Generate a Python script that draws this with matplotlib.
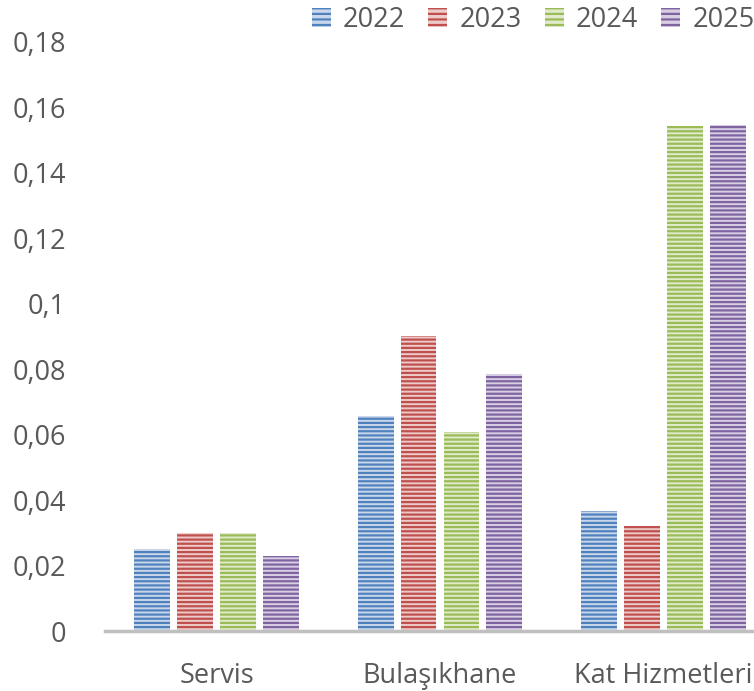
import numpy as np
import matplotlib.pyplot as plt
from matplotlib.patches import Patch

plt.rcParams['font.family'] = ['Open Sans', 'DejaVu Sans']
plt.rcParams['hatch.linewidth'] = 1.6

categories = ['Servis', 'Bulaşıkhane', 'Kat Hizmetleri']
years = ['2022', '2023', '2024', '2025']
values = {
    '2022': [0.025, 0.0657, 0.0367],
    '2023': [0.0298, 0.0902, 0.0321],
    '2024': [0.0298, 0.0608, 0.1543],
    '2025': [0.023, 0.0785, 0.1547],
}
yticks = [0, 0.02, 0.04, 0.06, 0.08, 0.1, 0.12, 0.14, 0.16, 0.18]
ytick_labels = ['0', '0,02', '0,04', '0,06', '0,08', '0,1', '0,12', '0,14', '0,16', '0,18']

# dark stripe colour, light fill colour
colors = {'2022': ('#4F81BD', '#C9D7EB'),
          '2023': ('#C0504D', '#EDCBCA'),
          '2024': ('#9BBB59', '#E0EBCB'),
          '2025': ('#8064A2', '#D8CFE3')}

fig = plt.figure(figsize=(7.54, 6.91), dpi=100)
ax = fig.add_axes([105/754, 60/691, 670/754, 589/691])

x = np.arange(len(categories))
pitch = 0.192
width = 0.16
handles = []
for i, yr in enumerate(years):
    dark, light = colors[yr]
    ax.bar(x + (i - 1.5) * pitch, values[yr], width, facecolor=light,
           edgecolor=dark, hatch='----', linewidth=0)
    handles.append(Patch(facecolor=light, edgecolor=dark, hatch='---', linewidth=0, label=yr))

ax.set_xlim(-0.5, 2.5)
ax.set_ylim(0, 0.18)
ax.set_xticks(x)
ax.set_xticklabels(categories)
ax.set_yticks(yticks)
ax.set_yticklabels(ytick_labels)
ax.tick_params(axis='both', length=0, labelsize=19.5, labelcolor='#595959')
ax.tick_params(axis='y', pad=28)
ax.tick_params(axis='x', pad=22)
for s in ['top', 'right', 'left']:
    ax.spines[s].set_visible(False)
ax.spines['bottom'].set_color('#BFBFBF')
ax.spines['bottom'].set_linewidth(2.5)

leg = fig.legend(handles=handles, ncol=4, frameon=False, loc='upper right',
                 bbox_to_anchor=(1.033, 1.026), fontsize=19.5, handlelength=0.7,
                 handleheight=0.7, handletextpad=0.45, columnspacing=0.85)
for t in leg.get_texts():
    t.set_color('#595959')

fig.savefig('out.png', dpi=100)
